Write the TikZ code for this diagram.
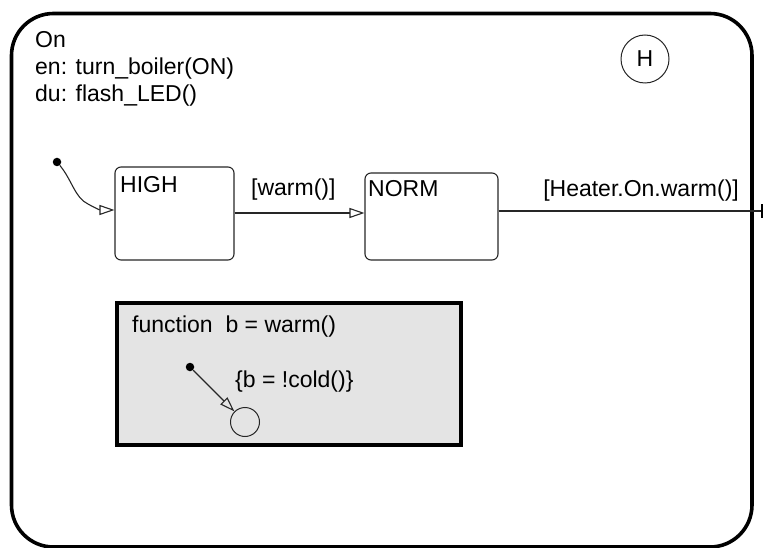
\documentclass[tikz,border=0pt]{standalone}
\usepackage{fontspec}
\setmainfont{Liberation Sans}
\usetikzlibrary{arrows.meta}
\begin{document}
\begin{tikzpicture}[x=1pt,y=-1pt,
  txt/.style={anchor=base west,inner sep=0pt,font=\fontsize{23}{27}\selectfont},
  statebox/.style={draw=black!85,line width=1.1pt,rounded corners=6pt,minimum width=#1,inner sep=0pt},
  trans/.style={draw=black!85,line width=1.1pt,-{Triangle[open,length=15pt,width=10pt,line width=1.1pt]}},
  dotnode/.style={circle,fill=black,inner sep=0pt,minimum size=8.5pt}]
\useasboundingbox (0,0) rectangle (763,548);
% outer superstate
\draw[line width=3.6pt,rounded corners=42pt] (11.5,13.5) rectangle (752,547);
\node[txt] (onname) at (35,48) {On};
\node[txt] (onen) at (35,75) {en: turn\_boiler(ON)};
\node[txt] (ondu) at (35,102) {du: flash\_LED()};
% history junction
\node[circle,draw=black!85,line width=1pt,minimum size=48pt,inner sep=0pt,font=\fontsize{23}{27}\selectfont] (hist) at (645,59) {H};
% states
\node[statebox=119pt,minimum height=93pt] (high) at (174.5,213.5) {};
\node[txt] (highlbl) at (120,193) {HIGH};
\node[statebox=133pt,minimum height=87pt] (norm) at (431.5,216.5) {};
\node[txt] (normlbl) at (368,197) {NORM};
% default transition
\node[dotnode] (def1) at (57,162) {};
\coordinate (hin) at (high.west |- 0,210);
\draw[trans] (def1) .. controls (72,180) and (75,198) .. (88,204) .. controls (95,208) and (100,210) .. (hin);
% HIGH -> NORM
\coordinate (hout) at (high.east |- 0,213);
\draw[trans] (hout) -- (hout -| norm.west);
\node[txt] (warmlbl) at (251,196) {[warm()]};
% exit transition
\coordinate (exitpt) at (762,211);
\draw[draw=black!85,line width=1.1pt] (norm.east |- exitpt) -- (exitpt);
\draw[line width=1.6pt] ([yshift=-7pt]exitpt) -- ([yshift=7pt]exitpt);
\node[txt,anchor=base east] (heatlbl) at (739,197) {[Heater.On.warm()]};
% graphical function
\node[draw,line width=3.2pt,fill={rgb,255:red,228;green,228;blue,228},minimum width=344pt,minimum height=142pt,inner sep=0pt] (func) at (289,374) {};
\node[txt] (funclbl) at (132,332) {function\ \ b = warm()};
\node[dotnode] (def2) at (190,367) {};
\node[circle,draw=black!85,line width=1pt,minimum size=29pt,inner sep=0pt] (junc) at (245,422) {};
\draw[trans] (def2) -- (junc);
\node[txt] (coldlbl) at (235,387) {\{b = !cold()\}};
\end{tikzpicture}
\end{document}
